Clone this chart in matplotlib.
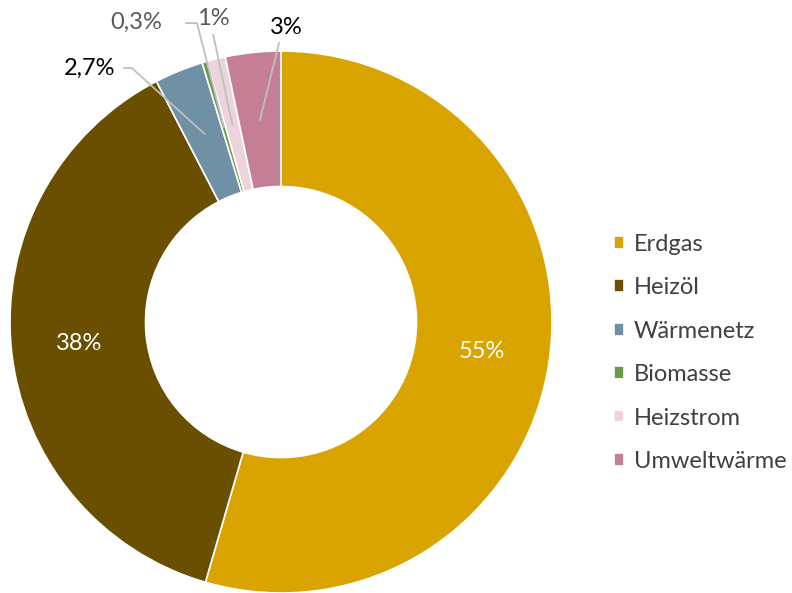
import numpy as np
import matplotlib
matplotlib.use('Agg')
import matplotlib.pyplot as plt

plt.rcParams['font.family'] = ['Lato', 'DejaVu Sans']

categories = ['Erdgas', 'Heizöl', 'Wärmenetz', 'Biomasse', 'Heizstrom', 'Umweltwärme']
shares = [54.5, 37.9, 2.9, 0.3, 1.1, 3.3]
labels = ['55%', '38%', '2,7%', '0,3%', '1%', '3%']
colors = ['#D9A400', '#6A4F00', '#7090A6', '#6A9A4C', '#EDD4DB', '#C47F94']

# label placement: inside (white) or outside with a leader line
outside = {
    2: dict(text=(-0.61, 0.937), ha='right', color='black', elbow=[(-0.579, 0.937), (-0.55, 0.937)]),
    3: dict(text=(-0.44, 1.107), ha='right', color='#595959', elbow=[(-0.35, 1.103), (-0.31, 1.103)]),
    4: dict(text=(-0.25, 1.12), ha='center', color='#595959', elbow=[(-0.25, 1.06)]),
    5: dict(text=(0.02, 1.085), ha='center', color='black', elbow=[(-0.007, 1.03)]),
}

fig = plt.figure(figsize=(7.92, 5.93), dpi=100)
ax = fig.add_axes([10 / 792, 0, 542 / 792, 542 / 593])

wedges, _ = ax.pie(shares, colors=colors, startangle=90, counterclock=False,
                   radius=1, wedgeprops=dict(width=0.5, edgecolor='white', linewidth=1.2))
ax.set_xlim(-1, 1)
ax.set_ylim(-1, 1)
ax.set_aspect('equal')
ax.axis('off')

for i, w in enumerate(wedges):
    ang = np.deg2rad((w.theta1 + w.theta2) / 2)
    ax_x, ax_y = 0.75 * np.cos(ang), 0.75 * np.sin(ang)
    if i in outside:
        o = outside[i]
        pts = o['elbow'] + [(ax_x, ax_y)]
        xs, ys = zip(*pts)
        ax.plot(xs, ys, color='#BFBFBF', lw=1.3, clip_on=False)
        ax.text(o['text'][0], o['text'][1], labels[i], ha=o['ha'], va='center',
                fontsize=17, color=o['color'], clip_on=False)
    else:
        ax.text(ax_x, ax_y - 0.005, labels[i], ha='center', va='center',
                fontsize=17, color='white')

leg = fig.legend(wedges, categories, loc='upper left', bbox_to_anchor=(602 / 792, 1 - 222 / 593),
                 frameon=False, fontsize=17, handlelength=0.45, handleheight=0.45,
                 handletextpad=0.4, labelspacing=0.95, borderpad=0)
for t in leg.get_texts():
    t.set_color('#404040')

fig.savefig('out.png', dpi=100)
